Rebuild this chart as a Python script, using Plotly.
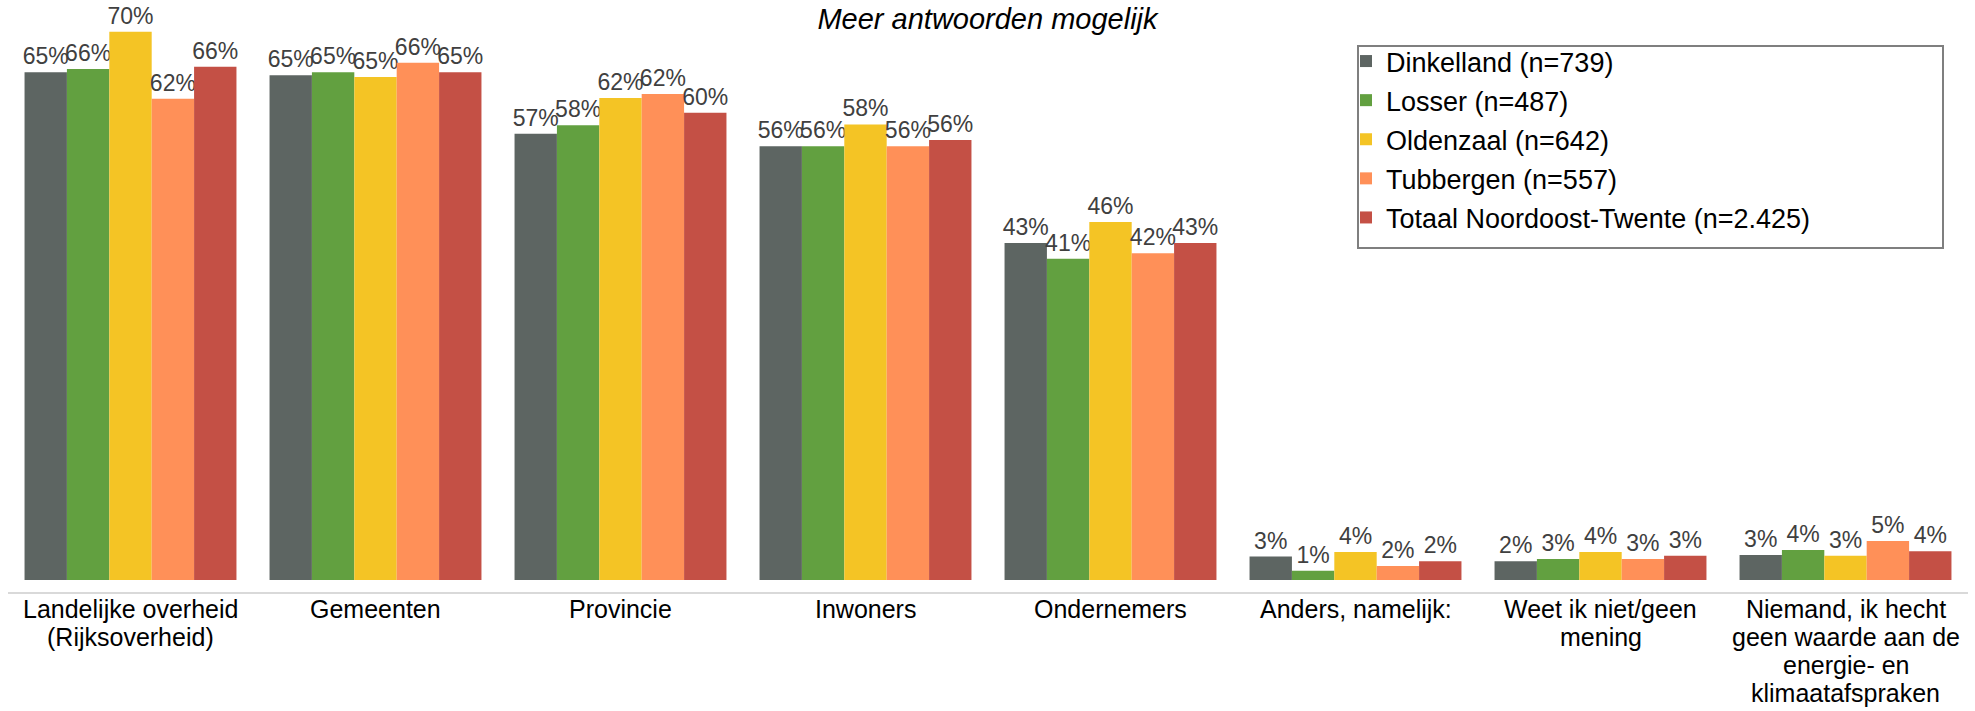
import plotly.graph_objects as go

categories = [
    "Landelijke overheid<br>(Rijksoverheid)",
    "Gemeenten",
    "Provincie",
    "Inwoners",
    "Ondernemers",
    "Anders, namelijk:",
    "Weet ik niet/geen<br>mening",
    "Niemand, ik hecht<br>geen waarde aan de<br>energie- en<br>klimaatafspraken",
]

series_names = [
    "Dinkelland (n=739)",
    "Losser (n=487)",
    "Oldenzaal (n=642)",
    "Tubbergen (n=557)",
    "Totaal Noordoost-Twente (n=2.425)",
]

dinkelland = [65.1, 64.7, 57.2, 55.6, 43.2, 3.0, 2.4, 3.2]
losser = [65.5, 65.1, 58.3, 55.6, 41.2, 1.2, 2.7, 3.85]
oldenzaal = [70.3, 64.5, 61.8, 58.4, 45.9, 3.6, 3.6, 3.1]
tubbergen = [61.7, 66.3, 62.3, 55.6, 41.9, 1.8, 2.7, 5.0]
totaal = [65.8, 65.1, 59.9, 56.4, 43.2, 2.4, 3.1, 3.7]

series_values = [dinkelland, losser, oldenzaal, tubbergen, totaal]
colors = ["#5D6562", "#62A040", "#F4C425", "#FF9058", "#C45045"]

FONT = "Liberation Sans, Arial, sans-serif"

fig = go.Figure()
for i, (name, vals, col) in enumerate(zip(series_names, series_values, colors)):
    fig.add_trace(go.Bar(
        x=categories,
        y=vals,
        name=name,
        legendgroup=f"g{i}",
        marker=dict(color=col, line=dict(width=0)),
        texttemplate="%{y:.0f}%",
        textposition="outside",
        textfont=dict(family=FONT, size=23, color="#404040"),
        constraintext="none",
        cliponaxis=False,
        hoverinfo="skip",
    ))

W, H = 1975, 711
ml, mr, mt, mb = 8, 7, 10, 119
plot_w = W - ml - mr
plot_h = H - mt - mb
PX_PER_PCT = 7.8

# category labels: one annotation per text line (tighter line spacing than tick labels)
label_annotations = []
for cat in categories:
    for k, line in enumerate(cat.split("<br>")):
        label_annotations.append(dict(
            x=cat, xref="x", y=0, yref="paper",
            text=line, showarrow=False,
            xanchor="center", yanchor="middle",
            yshift=-(17 + 28 * k),
            font=dict(family=FONT, size=25, color="#000000"),
        ))

# legend frame in paper coords
lx0 = (1358 - ml) / plot_w
lx1 = (1943 - ml) / plot_w
ly1 = (H - mb - 46) / plot_h
ly0 = (H - mb - 248) / plot_h

fig.update_layout(
    template="none",
    width=W,
    height=H,
    margin=dict(l=ml, r=mr, t=mt, b=mb, pad=0, autoexpand=False),
    paper_bgcolor="white",
    plot_bgcolor="white",
    barmode="group",
    bargap=0.135,
    bargroupgap=0,
    font=dict(family=FONT, color="#000000"),
    title=dict(
        text="<i>Meer antwoorden mogelijk</i>",
        font=dict(family=FONT, size=29, color="#000000"),
        x=0.5, xanchor="center", xref="container",
        y=1 - 19 / H, yanchor="middle", yref="container",
    ),
    legend=dict(
        x=(1346 - ml) / plot_w, xanchor="left",
        y=(H - mb - 37) / plot_h, yanchor="top",
        font=dict(family=FONT, size=27, color="#000000"),
        bgcolor="rgba(0,0,0,0)",
        borderwidth=0,
        tracegroupgap=1,
        traceorder="grouped",
    ),
    shapes=[dict(
        type="rect", xref="paper", yref="paper",
        x0=lx0, x1=lx1, y0=ly0, y1=ly1,
        line=dict(color="#7F7F7F", width=2),
        fillcolor="rgba(0,0,0,0)",
        layer="above",
    )],
    annotations=label_annotations,
    xaxis=dict(
        automargin=False,
        showline=True, linecolor="#D9D9D9", linewidth=2,
        ticks="", showgrid=False, zeroline=False,
        showticklabels=False,
    ),
    yaxis=dict(
        automargin=False,
        range=[-12 / PX_PER_PCT, -12 / PX_PER_PCT + plot_h / PX_PER_PCT],
        visible=False, showgrid=False, zeroline=False,
    ),
)

fig.write_html(
    "out.html",
    config={"displayModeBar": False},
    post_script="document.body.style.margin='0';",
)
